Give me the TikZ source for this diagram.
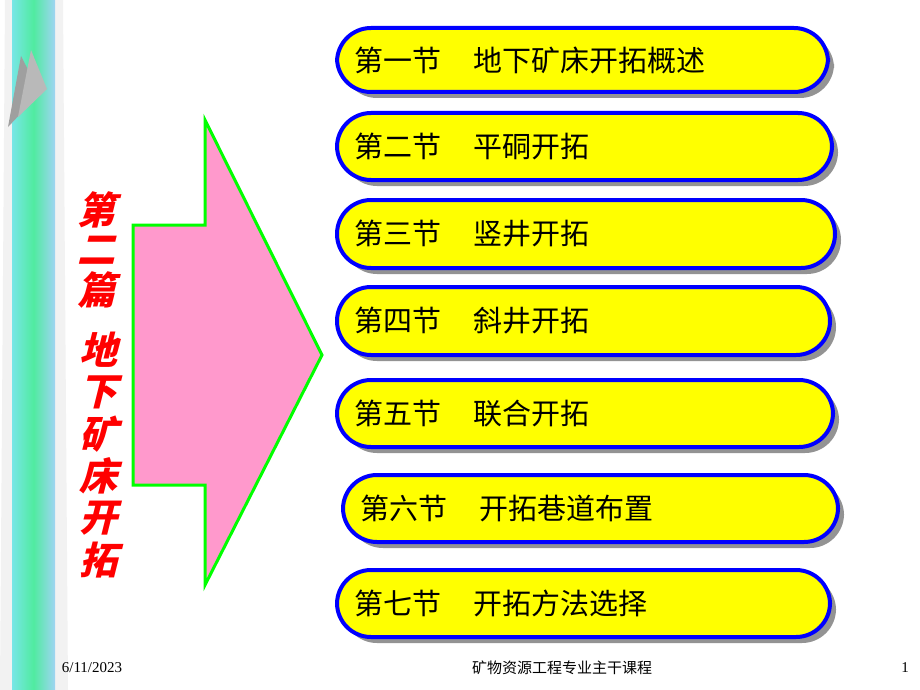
\documentclass[tikz,border=0pt]{standalone}
\usepackage{fontspec}
\newfontfamily\cjk{Noto Sans CJK SC}
\setmainfont{Liberation Serif}
\usetikzlibrary{positioning}
\definecolor{pillyellow}{RGB}{255,255,0}
\definecolor{pillblue}{RGB}{0,0,255}
\definecolor{arrowpink}{RGB}{255,153,204}
\definecolor{arrowgreen}{RGB}{0,255,0}
\definecolor{stripcyan}{RGB}{120,230,230}
\definecolor{stripgreen}{RGB}{80,235,160}
\tikzset{
  pill/.style={draw=pillblue, line width=4pt, fill=pillyellow, rounded corners=34pt},
  pillshadow/.style={fill=gray!85, rounded corners=34pt},
  pilltext/.style={font=\cjk\fontsize{29}{29}\selectfont, anchor=west},
  titlechar/.style={text=red, font=\cjk\bfseries\fontsize{38}{38}\selectfont, xslant=0.25, transform shape},
  foot/.style={font=\fontsize{15}{15}\selectfont}
}
\begin{document}
\begin{tikzpicture}[x=1pt,y=1pt,yscale=-1]
\useasboundingbox (0,0) rectangle (920,690);
\fill[white] (0,0) rectangle (920,690);

%left strip
\fill[gray!10] (5,0) -- (63,0) -- (68,690) -- (0,690) -- cycle;
\shade[left color=stripcyan, right color=stripcyan!80!blue!60, middle color=stripgreen] (12,0) rectangle (55,690);
\fill[gray!75] (8,127) -- (21,56) -- (40,93) -- cycle;
\fill[gray!55] (18,117) -- (31,50) -- (47,89) -- cycle;

%big arrow
\draw[draw=arrowgreen, line width=3pt, fill=arrowpink]
  (133,225) -- (205,225) -- (205,120) -- (322,355) -- (205,585) -- (205,485) -- (133,485) -- cycle;

%title
\begin{scope}[yscale=-1]
\foreach \ch [count=\i] in {第,二,篇}
  \node[titlechar] (title\i) at (100,-170-40*\i) {\ch};
\foreach \ch [count=\i] in {地,下,矿,床,开,拓}
  \node[titlechar] (titleb\i) at (102,-308-42*\i) {\ch};
\end{scope}

%section pills
\foreach \xa/\ya/\xb/\yb/\txt [count=\i] in {
  337/28/828/92/{第一节\hspace{32pt}地下矿床开拓概述},
  337/113/832/180/{第二节\hspace{32pt}平硐开拓},
  337/200/835/268/{第三节\hspace{32pt}竖井开拓},
  337/287/830/355/{第四节\hspace{32pt}斜井开拓},
  337/380/833/447/{第五节\hspace{32pt}联合开拓},
  343/475/838/542/{第六节\hspace{32pt}开拓巷道布置},
  337/570/830/637/{第七节\hspace{32pt}开拓方法选择}}{
  \fill[pillshadow] (\xa+6,\ya+6) rectangle (\xb+6,\yb+6);
  \draw[pill] (\xa,\ya) rectangle (\xb,\yb);
  \node[pilltext] (sec\i) at (\xa+14,{(\ya+\yb)/2}) {\txt};
}

%footer
\node[foot] (date) at (92,668) {6/11/2023};
\node[foot, font=\cjk\fontsize{15}{15}\selectfont] (course) at (562,668) {矿物资源工程专业主干课程};
\node[foot] (page) at (905,668) {1};
\end{tikzpicture}
\end{document}
